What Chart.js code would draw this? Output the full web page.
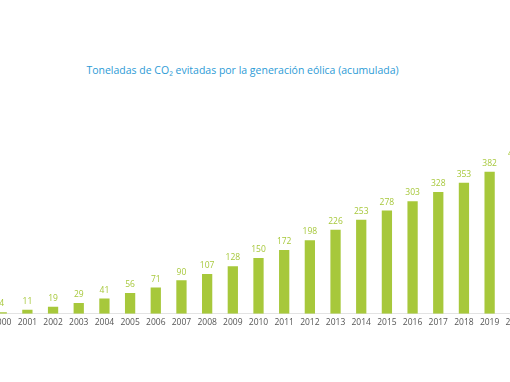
<!DOCTYPE html>
<html>
<head>
<meta charset="utf-8">
<script src="https://cdn.jsdelivr.net/npm/chart.js@4/dist/chart.umd.min.js"></script>
<style>
  html, body { margin: 0; padding: 0; background: #fff; overflow: hidden; width: 510px; height: 382px; }
  #title { position: absolute; left: 0; width: 485px; top: 63px; text-align: center;
           font-family: "Open Sans", Lato, sans-serif; font-size: 10.5px; font-weight: 500; color: #2d9bd6; }
  #wrap { position: absolute; left: -12px; top: 0; width: 541px; height: 382px; }
</style>
</head>
<body>
<div id="title">Toneladas de CO₂ evitadas por la generación eólica (acumulada)</div>
<div id="wrap"><canvas id="c"></canvas></div>
<script>
const years = ["2000","2001","2002","2003","2004","2005","2006","2007","2008","2009","2010",
               "2011","2012","2013","2014","2015","2016","2017","2018","2019","2020"];
const tonnes = [4, 11, 19, 29, 41, 56, 71, 90, 107, 128, 150,
                172, 198, 226, 253, 278, 303, 328, 353, 382, 410];

const barGreen = "#a7c83b";

const valueLabels = {
  id: "valueLabels",
  afterDatasetsDraw(chart) {
    const ctx = chart.ctx;
    const meta = chart.getDatasetMeta(0);
    ctx.save();
    ctx.fillStyle = barGreen;
    ctx.font = "500 8.5px 'Open Sans', Lato, sans-serif";
    ctx.textAlign = "center";
    ctx.textBaseline = "bottom";
    meta.data.forEach((bar, i) => {
      ctx.fillText(String(tonnes[i]), bar.x, bar.y - 4);
    });
    ctx.restore();
  }
};

new Chart(document.getElementById("c"), {
  type: "bar",
  data: {
    labels: years,
    datasets: [{
      data: tonnes,
      backgroundColor: barGreen,
      borderWidth: 0,
      barPercentage: 0.8,
      categoryPercentage: 0.5
    }]
  },
  options: {
    responsive: true,
    maintainAspectRatio: false,
    animation: false,
    devicePixelRatio: 1,
    layout: { padding: { top: 128, bottom: 50, left: 0, right: 0 } },
    plugins: { legend: { display: false }, tooltip: { enabled: false } },
    scales: {
      x: {
        grid: { display: false, drawTicks: false },
        border: { display: true, color: "#e3e3e3", width: 1 },
        ticks: {
          color: "#555",
          padding: 4,
          maxRotation: 0,
          autoSkip: false,
          font: { family: "'Open Sans', Lato, sans-serif", size: 8.5 }
        }
      },
      y: {
        display: false,
        min: 0,
        max: 500
      }
    }
  },
  plugins: [valueLabels]
});
</script>
</body>
</html>
